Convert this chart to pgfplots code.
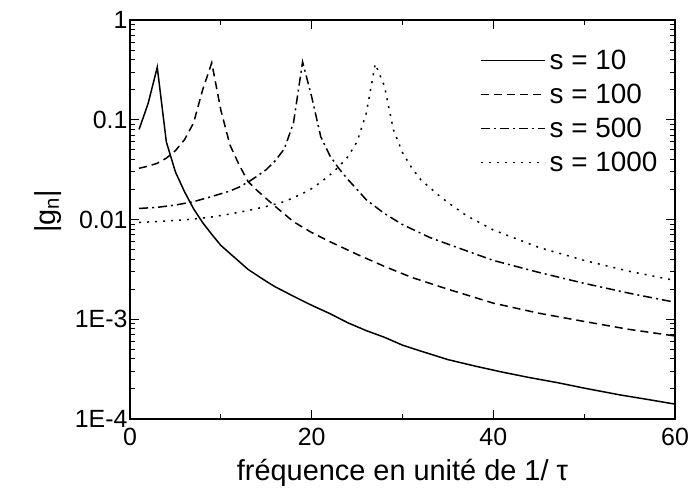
\documentclass[border=0pt]{standalone}
\usepackage{fontspec}
\setmainfont{Liberation Sans}
\usepackage{pgfplots}
\pgfplotsset{compat=1.18}
\begin{document}
\begin{tikzpicture}[x=1bp,y=1bp]
\useasboundingbox (0,0) rectangle (688,498);
\begin{axis}[
  at={(130bp,79bp)}, anchor=south west,
  width=545bp, height=399bp, scale only axis,
  ymode=log,
  xmin=0, xmax=60, ymin=1e-4, ymax=1,
  xtick={0,20,40,60}, xticklabels={0,20,40,60},
  minor x tick num=1,
  ytick={1e-4,1e-3,0.01,0.1,1},
  yticklabels={1E-4,1E-3,0.01,0.1,1},
  tick align=inside,
  major tick length=9bp, minor tick length=5bp,
  axis line style={line width=1.2bp},
  every tick/.style={line width=1bp, black},
  tick label style={font=\fontsize{25}{28}\selectfont},
  xticklabel style={yshift=-6bp},
  yticklabel style={xshift=1bp},
  xlabel={fréquence en unité de 1/ τ},
  ylabel={|g\textsubscript{n}|},
  label style={font=\fontsize{29}{32}\selectfont},
  xlabel style={at={(axis description cs:0.5,-0.135)}, anchor=center},
  ylabel style={at={(axis description cs:-0.151,0.52)}, anchor=center, rotate=0},
  legend style={draw=none, fill=none, at={(0.643,0.925)}, anchor=north west,
    inner xsep=0pt, inner ysep=0pt, row sep=13bp,
    nodes={inner ysep=0pt, inner xsep=3.5bp},
    font=\fontsize{28}{30}\selectfont},
  legend cell align=left,
  legend image code/.code={\draw[#1] (0bp,0bp) -- (64bp,0bp);},
  every axis plot/.append style={line width=1.5bp, black},
]
\addplot[solid] coordinates {
(1,0.080) (2,0.146) (3,0.336) (4,0.060) (5,0.030) (6,0.019) (7,0.0128) (8,0.0093)
(9,0.0071) (10,0.0055) (11,0.00457) (12,0.0038) (13,0.00316) (14,0.00275) (15,0.0024)
(16,0.00211) (18,0.0017) (20,0.00138) (22,0.00114) (24,0.00092) (26,0.00077) (28,0.00066)
(30,0.00055) (32,0.00048) (35,0.000394) (38,0.000339) (41,0.000295) (44,0.00026)
(47,0.000232) (50,0.000204) (54,0.000174) (57,0.000157) (60,0.000141)
};
\addlegendentry{s = 10}
\addplot[dash pattern=on 8bp off 5bp] coordinates {
(1,0.0326) (2,0.0343) (3,0.0366) (4,0.0412) (5,0.049) (6,0.063) (7,0.093) (8,0.20)
(9,0.372) (10,0.125) (11,0.056) (12,0.0355) (13,0.024) (14,0.0195) (15,0.0162)
(16,0.0135) (18,0.0095) (20,0.0074) (22,0.0060) (25,0.00447) (28,0.00339) (31,0.00263)
(35,0.0020) (40,0.00145) (45,0.00115) (50,0.00095) (55,0.00079) (60,0.00068)
};
\addlegendentry{s = 100}
\addplot[dash pattern=on 9bp off 4bp on 2bp off 4bp] coordinates {
(1,0.0129) (3,0.01324) (5,0.01396) (7,0.0151) (9,0.0170) (11,0.0193) (12,0.0211)
(13,0.0237) (14,0.0272) (15,0.0316) (16,0.0389) (17,0.0513) (18,0.0933) (19,0.380)
(20,0.170) (21,0.0676) (22,0.0437) (23,0.0324) (24,0.0251) (25,0.0200) (26,0.0158)
(28,0.0115) (30,0.0089) (33,0.0066) (36,0.00525) (40,0.00389) (45,0.00295)
(50,0.00229) (55,0.00182) (60,0.00148)
};
\addlegendentry{s = 500}
\addplot[dash pattern=on 2bp off 6bp] coordinates {
(1,0.00933) (3,0.00955) (5,0.00977) (7,0.0101) (9,0.0106) (11,0.01135) (13,0.0123)
(15,0.0135) (17,0.0151) (19,0.0182) (20,0.0204) (21,0.0237) (22,0.0279) (23,0.0339)
(24,0.0427) (25,0.0603) (26,0.115) (27,0.363) (28,0.219) (29,0.0794) (30,0.0468)
(31,0.0331) (32,0.0251) (33,0.0209) (34,0.0174) (35,0.0148) (37,0.0110) (40,0.00785)
(45,0.00525) (50,0.00389) (55,0.00302) (60,0.00245)
};
\addlegendentry{s = 1000}
\end{axis}
\end{tikzpicture}
\end{document}
